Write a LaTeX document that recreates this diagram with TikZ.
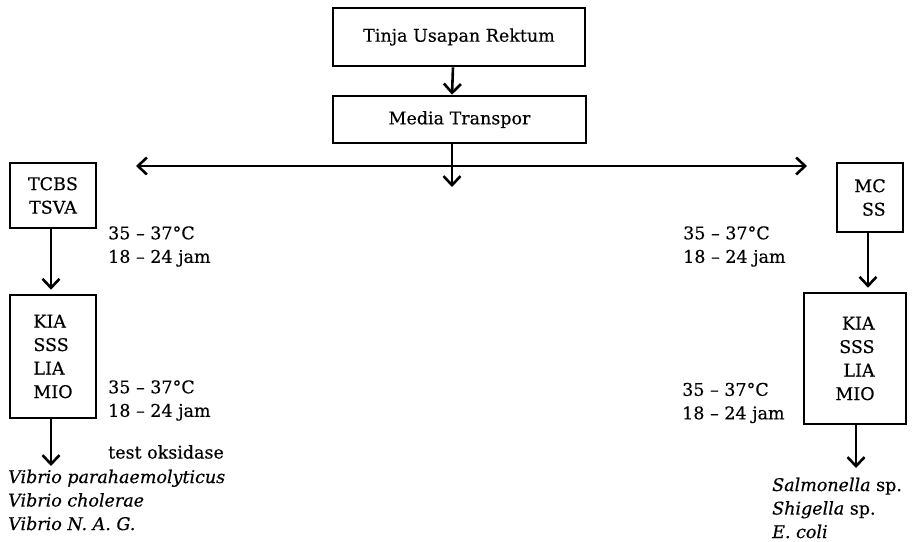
\documentclass[tikz,border=0pt]{standalone}
\usepackage{fontspec}
\setmainfont[FakeBold=0.35]{DejaVu Serif}
\usetikzlibrary{arrows.meta}
\begin{document}
\begin{tikzpicture}[x=1pt,y=-1pt,
  box/.style={draw,line width=2.6pt,inner sep=0pt,font=\fontsize{17.5}{23.5}\selectfont},
  lbl/.style={inner sep=0pt,font=\fontsize{17.5}{23.5}\selectfont,align=left},
  tip/.tip={Straight Barb[length=9pt,width=17pt,line width=2.6pt]},
  conn/.style={line width=2.6pt,-tip}]
\useasboundingbox (0,0) rectangle (912,541);
% top boxes
\node[box,minimum width=252pt,minimum height=58pt] (tinja) at (459,37) {Tinja Usapan Rektum};
\node[box,minimum width=253pt,minimum height=47pt] (media) at (459.5,119.5) {Media Transpor};
% left column
\node[box,minimum width=86pt,minimum height=65pt,align=center] (tcbs) at (53,195.5) {TCBS\\TSVA};
\node[box,minimum width=86pt,minimum height=123pt,align=left] (kial) at (53,356.5) {KIA\\SSS\\LIA\\MIO};
% right column
\node[box,minimum width=66pt,minimum height=69pt,align=right] (mcss) at (870,197.5) {MC\\SS};
\node[box,minimum width=102pt,minimum height=131pt,align=right] (kiar) at (855,358.5) {KIA\\SSS\\LIA\\MIO};
% labels
\node[lbl,anchor=west] (tl1) at (108,246.5) {35 -- 37°C\\18 -- 24 jam};
\node[lbl,anchor=west] (tl2) at (108,400.5) {35 -- 37°C\\18 -- 24 jam};
\node[lbl,anchor=west] (ox) at (108,452) {test oksidase};
\node[lbl,anchor=west] (spl) at (8,500) {\itshape Vibrio parahaemolyticus\\\itshape Vibrio cholerae\\\itshape Vibrio N. A. G.};
\node[lbl,anchor=west] (tr1) at (683,246.5) {35 -- 37°C\\18 -- 24 jam};
\node[lbl,anchor=west] (tr2) at (682,403) {35 -- 37°C\\18 -- 24 jam};
\node[lbl,anchor=west] (spr) at (772,508) {\textit{Salmonella} sp.\\\textit{Shigella} sp.\\\textit{E. coli}};
% coordinates
\coordinate (hl) at (136,166);
\coordinate (hr) at (807,166);
\coordinate (vm) at (452,187);
\coordinate (el) at (51,466);
\coordinate (er) at (856,468);
% connectors
\draw[conn] ([xshift=-6pt]tinja.south) -- ([xshift=-7.5pt]media.north);
\draw[conn] ([xshift=-7.5pt]media.south) -- (vm);
\draw[line width=2.6pt,tip-tip] (hl) -- (hr);
\draw[conn,shorten >=4pt] ([xshift=-2pt]tcbs.south) -- ([xshift=-2pt]kial.north);
\draw[conn] ([xshift=-2pt]kial.south) -- (el);
\draw[conn,shorten >=4pt] ([xshift=-2pt]mcss.south) -- ([xshift=13pt]kiar.north);
\draw[conn] ([xshift=1pt]kiar.south) -- (er);
\end{tikzpicture}
\end{document}
